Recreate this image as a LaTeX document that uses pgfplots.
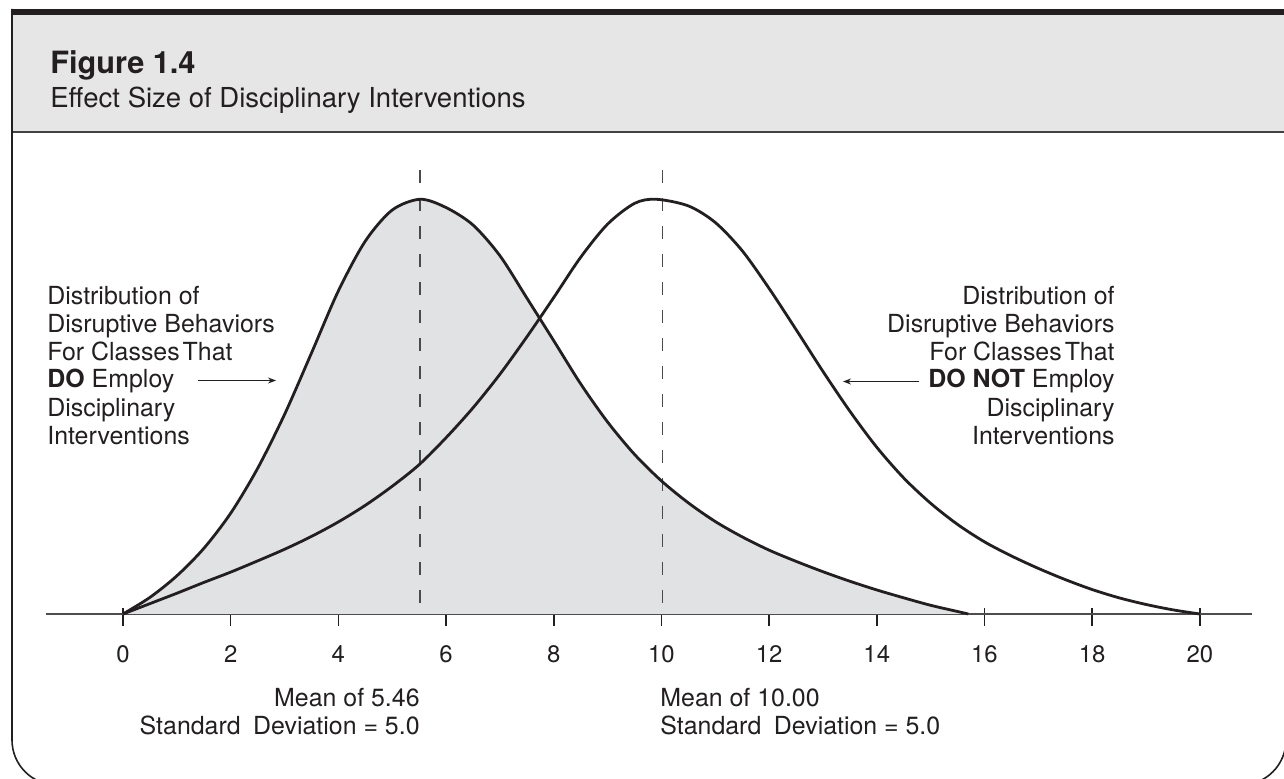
\documentclass[border=0pt]{standalone}
\usepackage{fontspec}
\setmainfont{TeX Gyre Heros}
\usepackage{pgfplots}
\pgfplotsset{compat=1.18}
\usetikzlibrary{arrows.meta}
\definecolor{hdr}{HTML}{E6E6E6}
\definecolor{fillg}{HTML}{E1E2E4}
\definecolor{ink}{HTML}{231F20}
\definecolor{dashc}{HTML}{4A4A4A}
\tikzset{px/.style={x=0.5bp,y=0.5bp}}
\pgfplotstableread{
x y
0 0
0.5 0.04
1 0.092
1.5 0.158
2 0.243
2.5 0.351
3 0.481
3.5 0.629
4 0.779
4.5 0.899
5 0.974
5.52 1.0
6 0.98
6.5 0.938
7 0.864
7.5 0.762
8 0.659
8.5 0.555
9 0.463
9.5 0.385
10 0.321
10.5 0.268
11 0.223
11.5 0.186
12 0.154
12.5 0.127
13 0.102
13.5 0.079
14 0.058
14.5 0.039
15 0.021
15.5 0.006
15.7 0
}\dotab
\pgfplotstableread{
x y
0 0
0.5 0.025
1 0.05
1.5 0.076
2 0.101
2.5 0.128
3 0.156
3.5 0.187
4 0.222
4.5 0.262
5 0.308
5.5 0.36
6 0.425
6.5 0.497
7 0.578
7.5 0.668
8 0.763
8.5 0.86
9 0.94
9.5 0.99
9.9 1.0
10.5 0.984
11 0.944
11.5 0.876
12 0.785
12.5 0.686
13 0.585
13.5 0.489
14 0.402
14.5 0.328
15 0.267
15.5 0.216
16 0.174
16.5 0.14
17 0.11
17.5 0.083
18 0.059
18.5 0.039
19 0.023
19.5 0.01
20 0
}\donttab
\begin{document}
\begin{tikzpicture}
\begin{scope}[px]
\useasboundingbox (0,0) rectangle (1284,778);
\begin{scope}
\clip (0,0) rectangle (1284,778);
\fill[hdr] (12,763) rectangle (1300,646);
\fill[ink] (11,763) rectangle (1300,769);
\draw[ink!85, line width=1bp] (12,646) -- (1300,646);
\draw[ink, line width=0.8bp, rounded corners=22.5bp] (12,769) -- (12,-7) -- (1286,-7) -- (1286,769);
\end{scope}
\node[anchor=base west, font=\fontsize{15.4}{18}\selectfont\bfseries, text=ink, inner sep=0] at (50,704) {Figure 1.4};
\node[anchor=base west, font=\fontsize{13.8}{16}\selectfont, text=ink, inner sep=0] at (50,670) {Effect Size of Disciplinary Interventions};
\end{scope}

\begin{axis}[at={(23bp,82bp)}, anchor=south west, scale only axis,
  width=603bp, height=228.1bp,
  xmin=-1.43, xmax=20.97, ymin=0, ymax=1.1,
  axis x line=bottom, axis y line=none,
  axis line style={-, line width=1bp, color=ink!80},
  xtick={0,2,...,20}, tick align=center, major tick length=9bp,
  every tick/.style={line width=0.8bp, ink, yshift=-1.5bp},
  xticklabel style={font=\fontsize{12}{14}\selectfont, text=ink, anchor=base, yshift=-19.5bp},
  /pgf/number format/assume math mode=true,
  clip=false]
\addplot[draw=none, fill=fillg, smooth] table {\dotab} \closedcycle;
\addplot[dashc, line width=0.75bp, dash pattern=on 6.5bp off 7.5bp] coordinates {(5.52,1.07) (5.52,0)};
\addplot[dashc, line width=0.75bp, dash pattern=on 6.5bp off 7.5bp] coordinates {(10.02,1.07) (10.02,0)};
\addplot[ink, line width=1.4bp, smooth] table {\donttab};
\addplot[ink, line width=1.4bp, smooth] table {\dotab};
\end{axis}

\begin{scope}[px, every node/.style={inner sep=0, text=ink, font=\fontsize{12.5}{14}\selectfont}]
\node[anchor=base west] at (47,473) {Distribution of};
\node[anchor=base west] at (47,445) {Disruptive Behaviors};
\node[anchor=base west] at (47,417) {For Classes\hspace{0.12em}That};
\node[anchor=base west] at (47,390) {\textbf{DO} Employ};
\node[anchor=base west] at (47,361) {Disciplinary};
\node[anchor=base west] at (47,333) {Interventions};
\node[anchor=base east] at (1115,473) {Distribution of};
\node[anchor=base east] at (1115,445) {Disruptive Behaviors};
\node[anchor=base east] at (1115,417) {For Classes\hspace{0.12em}That};
\node[anchor=base east] at (1115,390) {\textbf{DO NOT} Employ};
\node[anchor=base east] at (1115,361) {Disciplinary};
\node[anchor=base east] at (1115,333) {Interventions};
\draw[ink, line width=0.5bp, -{Stealth[length=4bp,width=3bp]}] (198,397.5) -- (276,397.5);
\draw[ink, line width=0.5bp, -{Stealth[length=4bp,width=3bp]}] (919,396.5) -- (843,396.5);
\node[anchor=base east] at (420,72) {Mean of 5.46};
\node[anchor=base east] at (420,44) {Standard\hspace{0.5em}Deviation = 5.0};
\node[anchor=base west] at (660,72) {Mean of 10.00};
\node[anchor=base west] at (660,44) {Standard\hspace{0.5em}Deviation = 5.0};
\end{scope}
\end{tikzpicture}
\end{document}
